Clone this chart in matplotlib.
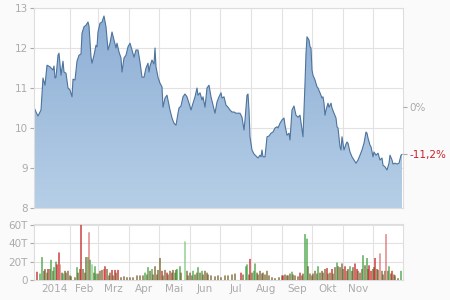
import numpy as np
import matplotlib
matplotlib.use('Agg')
import matplotlib.pyplot as plt
from matplotlib.colors import LinearSegmentedColormap

# price: day offset from 2014-01-01, price in EUR
price_day = [-5, -3, -1, 2, 4, 6, 8, 11, 14, 15, 16, 17, 19, 20, 22, 24, 25, 27, 29, 31,
             33, 34, 36, 38, 40, 42, 43, 45, 47, 49, 50, 52, 53, 55, 57, 58, 59, 61, 63, 65,
             67, 69, 71, 73, 75, 77, 78, 80, 82, 83, 85, 87, 89, 91, 93, 95, 97, 99, 101, 103,
             105, 107, 109, 110, 111, 113, 115, 116, 117, 119, 121, 123, 124, 126, 128, 129, 131, 133, 135, 137,
             139, 140, 142, 144, 146, 148, 150, 152, 154, 156, 158, 159, 161, 163, 164, 166, 168, 170, 172, 174,
             176, 178, 180, 182, 183, 185, 187, 189, 191, 193, 195, 197, 199, 201, 203, 205, 206, 208, 209, 210,
             211, 213, 215, 217, 219, 221, 222, 223, 224, 226, 227, 228, 230, 232, 234, 236, 238, 239, 241, 243,
             245, 246, 248, 250, 251, 253, 255, 257, 259, 261, 263, 264, 266, 267, 268, 270, 271, 272, 273, 274,
             276, 278, 279, 281, 283, 284, 285, 286, 287, 289, 290, 292, 293, 295, 297, 298, 299, 301, 302, 303,
             305, 307, 308, 309, 311, 313, 315, 317, 319, 321, 323, 325, 327, 328, 329, 331, 332, 334, 335, 337,
             339, 341, 343, 344, 346, 348, 350, 351, 353, 354, 356, 358, 360, 362, 363]
price = [10.52, 10.40, 10.30, 10.45, 11.25, 11.07, 11.57, 11.53, 11.45, 11.55, 11.25, 11.27, 11.82, 11.87, 11.32, 11.67, 11.40, 11.37, 11.00, 10.95,
         10.78, 11.22, 11.20, 11.67, 11.82, 11.85, 12.37, 12.53, 12.57, 12.65, 12.55, 11.78, 11.62, 11.82, 12.07, 12.03, 12.40, 12.62, 12.65, 12.80,
         12.53, 11.95, 12.12, 12.40, 12.20, 12.00, 12.12, 11.90, 11.75, 11.40, 11.75, 11.82, 12.03, 12.12, 11.95, 11.77, 11.95, 11.95, 11.65, 11.27,
         11.27, 11.50, 11.62, 11.40, 11.55, 11.70, 11.60, 12.00, 11.53, 11.27, 11.12, 11.03, 10.52, 10.75, 10.82, 10.70, 10.45, 10.25, 10.12, 10.07,
         10.37, 10.50, 10.55, 10.78, 10.85, 10.78, 10.62, 10.45, 10.62, 10.78, 11.00, 10.82, 10.88, 10.70, 10.78, 10.52, 11.00, 11.07, 10.78, 10.57,
         10.37, 10.65, 10.78, 10.88, 10.75, 10.78, 10.57, 10.52, 10.45, 10.40, 10.40, 10.37, 10.37, 10.37, 10.27, 9.95, 10.20, 10.82, 10.85, 10.45,
         9.78, 9.45, 9.35, 9.30, 9.25, 9.32, 9.28, 9.45, 9.28, 9.28, 9.53, 9.78, 9.80, 9.87, 9.90, 10.00, 10.03, 10.00, 10.12, 10.20,
         10.25, 10.07, 9.82, 9.87, 9.70, 10.45, 10.55, 10.32, 10.27, 10.32, 9.95, 9.78, 11.12, 11.87, 12.28, 12.20, 12.03, 12.00, 11.45, 11.32,
         11.20, 11.03, 11.00, 10.88, 10.75, 10.78, 10.62, 10.32, 10.45, 10.62, 10.52, 10.62, 10.50, 10.37, 10.25, 10.03, 10.00, 9.53, 9.45, 9.78,
         9.45, 9.60, 9.65, 9.62, 9.40, 9.28, 9.20, 9.12, 9.20, 9.32, 9.45, 9.62, 9.90, 9.87, 9.75, 9.57, 9.53, 9.28, 9.40, 9.32,
         9.37, 9.20, 9.25, 9.07, 9.03, 8.95, 9.12, 9.32, 9.20, 9.10, 9.12, 9.10, 9.12, 9.32, 9.34]

# volume (thousands) with up/down colour code
vol_day = [-2, 1, 3, 5, 6, 8, 9, 11, 12, 14, 15, 17, 18, 20, 21, 23, 24, 26, 27, 29,
           31, 32, 36, 38, 39, 41, 42, 44, 46, 47, 49, 50, 51, 53, 55, 56, 57, 59, 61, 63,
           65, 66, 68, 70, 71, 73, 74, 76, 77, 79, 82, 85, 88, 91, 94, 98, 101, 104, 106, 108,
           109, 111, 113, 114, 116, 118, 119, 121, 123, 124, 126, 128, 129, 131, 133, 134, 136, 137, 138, 141,
           142, 146, 148, 149, 151, 153, 154, 156, 158, 159, 161, 163, 164, 166, 168, 169, 172, 176, 179, 182,
           186, 189, 193, 196, 202, 204, 207, 208, 210, 211, 213, 215, 216, 218, 219, 221, 223, 224, 226, 228,
           230, 233, 236, 240, 243, 244, 246, 248, 249, 251, 253, 254, 256, 259, 261, 263, 264, 266, 268, 269,
           271, 273, 274, 276, 278, 279, 281, 283, 284, 286, 288, 289, 291, 293, 294, 296, 298, 299, 301, 303,
           304, 306, 308, 309, 311, 313, 314, 316, 318, 319, 321, 323, 324, 326, 328, 329, 330, 332, 334, 335,
           336, 338, 339, 341, 343, 344, 346, 347, 349, 350, 352, 353, 355, 356, 359, 362]
volume = [9, 7, 25, 10, 12, 8, 12, 12, 22, 10, 14, 20, 17, 30, 17, 8, 7, 10, 8, 10,
          5, 4, 3, 14, 8, 12, 60, 12, 8, 25, 25, 52, 22, 17, 8, 15, 7, 7, 10, 11,
          12, 15, 12, 5, 8, 11, 5, 11, 8, 11, 3, 4, 3, 3, 3, 5, 5, 5, 8, 6,
          14, 10, 12, 6, 15, 6, 11, 24, 10, 5, 11, 8, 6, 10, 8, 11, 8, 11, 12, 15,
          8, 42, 10, 5, 8, 5, 10, 6, 8, 14, 8, 10, 6, 10, 8, 6, 5, 4, 5, 3,
          5, 5, 6, 7, 8, 6, 15, 17, 6, 23, 8, 10, 18, 8, 6, 10, 7, 8, 6, 10,
          5, 3, 2, 3, 5, 5, 6, 5, 5, 7, 9, 6, 5, 4, 8, 5, 7, 50, 45, 15,
          7, 5, 7, 10, 7, 15, 8, 10, 8, 12, 13, 7, 8, 12, 7, 14, 19, 15, 14, 18,
          12, 15, 10, 12, 15, 10, 14, 18, 12, 10, 8, 12, 27, 16, 24, 12, 16, 10, 12, 14,
          24, 12, 11, 29, 10, 6, 10, 50, 10, 15, 7, 10, 6, 5, 2, 10]
vol_codes = ('rggddgrdgdggrrpdgddd'
             'dddgddrdddgpgldggddd'
             'prdddrdrdrddddddddgd'
             'gdgdddddrddrddrdgdgg'
             'dlddddgddgdgdddddddd'
             'ddddrdggdrdggddddddd'
             'dddddrddddgdddrddggd'
             'dddddgddddrddrddgddd'
             'drddgddrrdddgdgdrrdd'
             'rddpdddpdgdrdddg')

month_start = [0, 31, 59, 90, 120, 151, 181, 212, 243, 273, 304, 334]
month_names = ['2014', 'Feb', 'Mrz', 'Apr', 'Mai', 'Jun', 'Jul', 'Aug', 'Sep', 'Okt', 'Nov']

start_price = price[0]
end_price = price[-1]
change_label = '-11,2%'

colmap = {'g': '#3e9e3e', 'l': '#80c880', 'r': '#c41e1e', 'p': '#dc7070', 'd': '#735e28'}
n = min(len(vol_day), len(volume))
vol_codes = (vol_codes + 'd' * n)[:n]

grey = '#ababab'
gridc = '#e2e2e2'

fig = plt.figure(figsize=(4.5, 3), dpi=100, facecolor='#fafafa')
ax = fig.add_axes([34/450, 1-208/300, 369/450, 200/300])
axv = fig.add_axes([34/450, 1-280/300, 369/450, 56/300])

for a in (ax, axv):
    a.set_facecolor('white')
    a.set_xlim(-5, 364)
    a.set_xticks(month_start[1:])
    a.set_xticklabels([])
    a.grid(True, color=gridc, lw=0.8)
    a.set_axisbelow(True)
    for s in a.spines.values():
        s.set_color('#dddddd')
        s.set_linewidth(0.8)
    a.tick_params(axis='x', length=0)
    a.tick_params(axis='y', colors=grey, labelsize=7.5, length=3, width=0.8, pad=1.5)

# price area with vertical gradient
ax.set_ylim(8, 13)
ax.set_yticks([8, 9, 10, 11, 12, 13])
poly = ax.fill_between(price_day, price, 8, color='none', lw=0)
cmap = LinearSegmentedColormap.from_list('g', ['#b6cfe7', '#8cadd4'])
grad = np.linspace(0, 1, 256).reshape(-1, 1)
im = ax.imshow(grad, extent=(price_day[0], price_day[-1], 8, 13), origin='lower',
               aspect='auto', cmap=cmap, zorder=1)
im.set_clip_path(poly.get_paths()[0], transform=ax.transData)
ax.plot(price_day, price, color='#4e739c', lw=0.8, zorder=2)
ax.set_xlim(-5, 364)

# right side change labels
axr = ax.twinx()
axr.set_ylim(8, 13)
axr.set_yticks([start_price, end_price])
axr.set_yticklabels(['0%', change_label])
axr.tick_params(axis='y', length=3, width=0.8, colors=grey, labelsize=7.5, pad=1.5)
axr.get_yticklabels()[1].set_color('#c8202a')
for s in axr.spines.values():
    s.set_visible(False)

# volume bars
axv.bar(vol_day[:n], volume[:n], width=1.3, color=[colmap[c] for c in vol_codes],
        lw=0, snap=False, zorder=3)
axv.set_ylim(0, 61)
axv.set_yticks([0, 20, 40, 60])
axv.set_yticklabels(['0', '20T', '40T', '60T'])
mids = [(month_start[i] + month_start[i+1]) / 2 for i in range(len(month_names))]
axv.set_xticks(mids, minor=True)
axv.set_xticklabels(month_names, minor=True)
axv.tick_params(axis='x', which='minor', length=0, colors=grey, labelsize=7.5, pad=3)

fig.savefig('out.png', dpi=100, facecolor=fig.get_facecolor())
